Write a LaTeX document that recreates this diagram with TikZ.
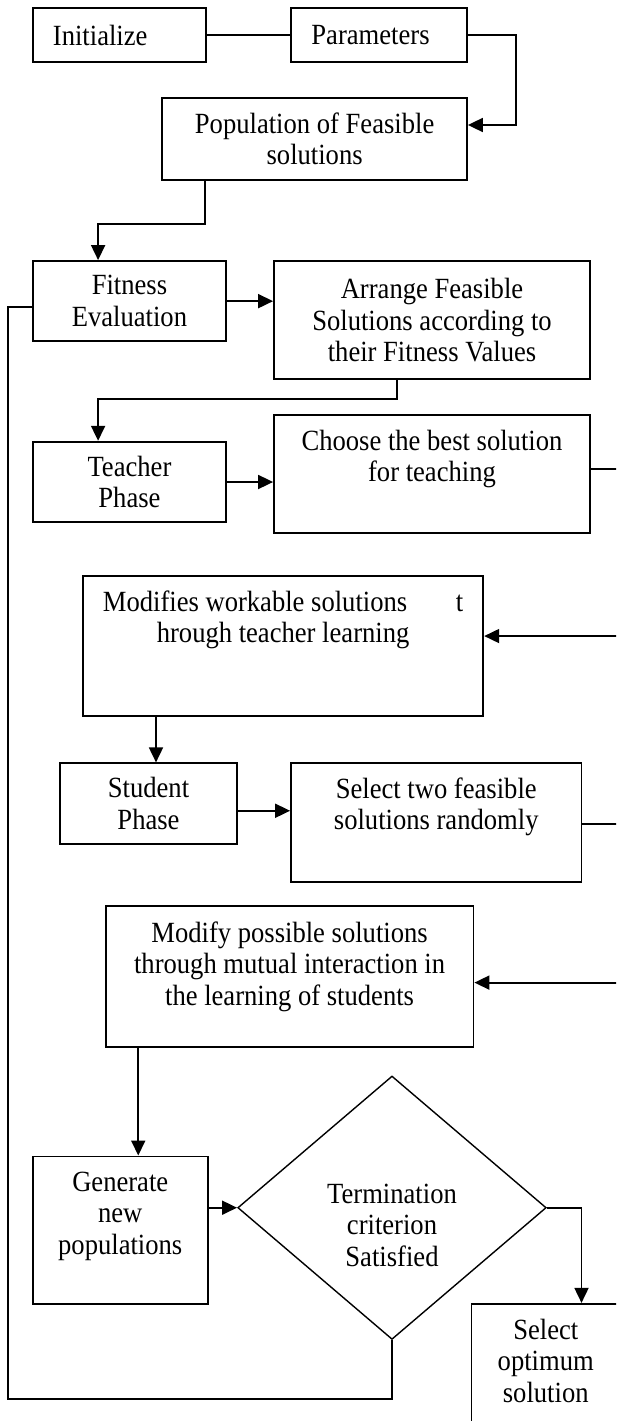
\documentclass[tikz,border=0pt]{standalone}
\usepackage{fontspec}
\setmainfont{Liberation Serif}[FakeStretch=0.908]
\usetikzlibrary{arrows.meta,shapes.geometric}
\begin{document}
\begin{tikzpicture}[
  x=1pt, y=-1pt,
  every node/.style={font=\fontsize{29.3pt}{31.5pt}\selectfont},
  box/.style={draw, line width=1.8pt, align=center, inner sep=0pt},
  decision/.style={draw, diamond, line width=1.4pt, align=center, inner sep=0pt},
  link/.style={line width=1.8pt},
  arr/.style={link, -{Triangle[length=15pt,width=14pt]}}
]
  \useasboundingbox (0,0) rectangle (616,1421);
  \clip (0,0) rectangle (616,1421);

  \node[box, minimum width=173.4pt, minimum height=54pt] (init) at (119.3,35.3) {Initialize\hspace*{38.2pt}};
  \node[box, minimum width=176pt, minimum height=54pt] (params) at (379,35.3) {Parameters\hspace*{17pt}};
  \node[box, minimum width=304.7pt, minimum height=82.6pt] (popul) at (314.65,139) {Population of Feasible\\solutions};
  \node[box, minimum width=193.7pt, minimum height=80.3pt] (fitness) at (129.45,301.15) {Fitness\\Evaluation};
  \node[box, minimum width=316pt, minimum height=118.3pt] (arrange) at (432,320.15) {Arrange Feasible\\Solutions according to\\their Fitness Values};
  \node[box, minimum width=193.7pt, minimum height=80.6pt] (teacher) at (129.45,482) {Teacher\\Phase};
  \node[box, minimum width=316pt, minimum height=118.3pt, text depth=37pt] (choose) at (432,474.15) {Choose the best solution\\for teaching};
  \node[box, minimum width=400.4pt, minimum height=140.3pt, text depth=58.4pt] (modteach) at (283.1,645.85) {Modifies workable solutions\hspace*{42pt} t\\hrough teacher learning};
  \node[box, minimum width=177.6pt, minimum height=80.3pt] (student) at (148.5,803.45) {Student\\Phase};
  \node[box, minimum width=290.5pt, minimum height=118.7pt, text depth=38pt] (selpair) at (436.25,822.65) {Select two feasible\\solutions randomly};
  \node[box, minimum width=367.8pt, minimum height=141pt, text depth=25.8pt] (modstud) at (289.6,976.5) {Modify possible solutions\\through mutual interaction in\\the learning of students};
  \node[box, minimum width=175.3pt, minimum height=147.4pt, text depth=34pt] (generate) at (120.25,1230.1) {Generate\\new\\populations};
  \node[decision, minimum width=308.5pt, minimum height=263.4pt, text height=117.4pt] (term) at (392,1207.7) {Termination\\criterion\\Satisfied};
  \node[box, minimum width=148.5pt, minimum height=136.2pt, text depth=23pt] (optimum) at (545.75,1371.9) {Select\\optimum\\solution};

  % connectors
  \draw[link] (init.east) -- (params.west);
  \draw[arr] (params.east) -- ++(47.7,0) |- ([yshift=14pt]popul.east);
  \draw[arr] ([xshift=43.2pt]popul.south west) -- ++(0,42.4) -| ([xshift=66.4pt]fitness.north west);
  \draw[arr] (fitness.east) -- (fitness.east -| arrange.west);
  \draw[arr] ([xshift=-35.1pt]arrange.south) -- ++(0,19) -| ([xshift=66.4pt]teacher.north west);
  \draw[arr] (teacher.east) -- (teacher.east -| choose.west);
  \draw[arr] ([yshift=5pt]choose.east) -- ++(40,0) |- ([yshift=9.8pt]modteach.east);
  \draw[arr] ([xshift=7.5pt]modteach.south -| student.north) -- ([xshift=7.5pt]student.north);
  \draw[arr] ([yshift=-7.3pt]student.east) -- ([yshift=-7.3pt]student.east -| selpair.west);
  \draw[arr] ([yshift=-1.2pt]selpair.east) -- ++(48,0) |- ([yshift=-6.1pt]modstud.east);
  \draw[arr] ([xshift=18pt]modstud.south -| generate.north) -- ([xshift=18pt]generate.north);
  \draw[arr] (generate.east |- term.west) -- (term.west);
  \draw[arr] (term.east) -| ([xshift=35.75pt]optimum.north);
  % back to fitness evaluation
  \draw[link] (term.south) -- ++(0,58.6) -| ([xshift=-24pt,yshift=-6.2pt]fitness.west) -- ([yshift=-6.2pt]fitness.west);
\end{tikzpicture}
\end{document}
